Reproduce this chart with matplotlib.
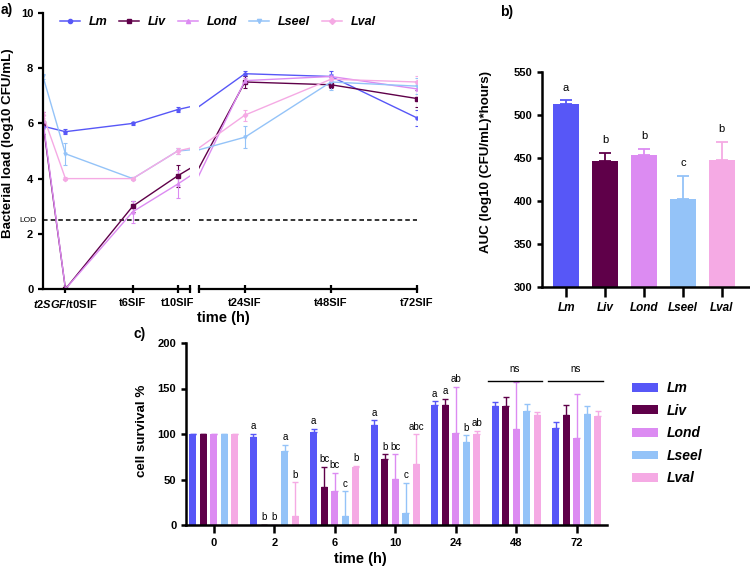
import numpy as np
import matplotlib
matplotlib.use("Agg")
import matplotlib.pyplot as plt
from matplotlib.patches import Patch
from matplotlib.lines import Line2D

plt.rcParams['font.family'] = ['Liberation Sans', 'DejaVu Sans']
plt.rcParams['font.weight'] = 'bold'
plt.rcParams['mathtext.fontset'] = 'custom'
plt.rcParams['mathtext.it'] = 'Liberation Sans:bold:italic'
plt.rcParams['mathtext.rm'] = 'Liberation Sans:bold'

# strains and colours
strains = ['Lm', 'Liv', 'Lond', 'Lseel', 'Lval']
colors = ['#5757F7', '#5F0049', '#DC8BF2', '#94C3F8', '#F5AAE4']
markers = ['o', 's', '^', 'v', 'D']

# panel a: bacterial load over digestion (time in h, cumulative)
time_h = [0, 2, 8, 12, 26, 50, 74]
time_labels = [r'$\mathit{t2SGF}$/t0SIF', 't6SIF', 't10SIF', 't24SIF', 't48SIF', 't72SIF']
load_Lm = [5.9, 5.7, 6.0, 6.5, 7.8, 7.7, 6.2]
load_Liv = [6.0, 0.0, 3.0, 4.1, 7.5, 7.4, 6.9]
load_Lond = [6.1, 0.0, 2.8, 3.8, 7.55, 7.7, 7.25]
load_Lseel = [7.7, 4.9, 4.0, 5.0, 5.5, 7.5, 7.35]
load_Lval = [6.3, 4.0, 4.0, 5.0, 6.3, 7.6, 7.5]
err_Lm = [0.05, 0.1, 0.05, 0.1, 0.1, 0.2, 0.3]
err_Liv = [0.4, 0.0, 0.2, 0.4, 0.2, 0.1, 0.3]
err_Lond = [0.3, 0.0, 0.4, 0.5, 0.1, 0.1, 0.3]
err_Lseel = [0.1, 0.4, 0.05, 0.1, 0.4, 0.3, 0.3]
err_Lval = [0.1, 0.05, 0.05, 0.1, 0.2, 0.1, 0.2]
lod = 2.5

# panel b: AUC
auc = [513, 447, 454, 402, 448]
auc_err = [4, 9, 7, 27, 21]
auc_letters = ['a', 'b', 'b', 'c', 'b']

# panel c: cell survival %
surv_times = ['0', '2', '6', '10', '24', '48', '72']
surv_Lm = [100, 97, 102, 110, 132, 131, 106.5]
surv_Liv = [100, 0, 42, 72, 132, 130.5, 120.5]
surv_Lond = [100, 0, 37.5, 50.5, 101.5, 105, 96]
surv_Lseel = [100, 81, 10, 13.5, 91.5, 125, 121.5]
surv_Lval = [100, 10, 64, 66.5, 100.5, 121, 120]
serr_Lm = [0, 3, 3.5, 5, 4, 4, 7]
serr_Liv = [0, 0, 22, 5.5, 7, 10, 11]
serr_Lond = [0, 0, 20, 27, 50, 52, 48]
serr_Lseel = [0, 7, 27, 33, 7, 8.5, 9]
serr_Lval = [0, 37, 1, 33, 3, 3, 5]
surv_letters = [
    ['', '', '', '', ''],
    ['a', 'b', 'b', 'a', 'b'],
    ['a', 'bc', 'bc', 'c', 'b'],
    ['a', 'b', 'bc', 'c', 'abc'],
    ['a', 'a', 'ab', 'b', 'ab'],
    ['', '', '', '', ''],
    ['', '', '', '', ''],
]

loads = [load_Lm, load_Liv, load_Lond, load_Lseel, load_Lval]
load_errs = [err_Lm, err_Liv, err_Lond, err_Lseel, err_Lval]
survs = [surv_Lm, surv_Liv, surv_Lond, surv_Lseel, surv_Lval]
surv_errs = [serr_Lm, serr_Liv, serr_Lond, serr_Lseel, serr_Lval]

fig = plt.figure(figsize=(7.5, 5.67), dpi=100)
W, H = 750, 567


def px_axes(x0, y0, x1, y1):
    return fig.add_axes([x0 / W, 1 - y1 / H, (x1 - x0) / W, (y1 - y0) / H])


def style(ax, lw=1.6):
    for s in ['top', 'right']:
        ax.spines[s].set_visible(False)
    for s in ['left', 'bottom']:
        ax.spines[s].set_linewidth(lw)
    ax.tick_params(width=lw, labelsize=8)


# ---- panel a (broken x axis) ----
axL = px_axes(43, 13, 190, 289)
axR = px_axes(199, 13, 417, 289)
for ax, lim in [(axL, (0, 13.1)), (axR, (13.2, 74))]:
    style(ax)
    for i in range(5):
        ax.errorbar(time_h, loads[i], yerr=load_errs[i], color=colors[i],
                    lw=1.0, marker=markers[i], ms=2.2, capsize=1.5,
                    elinewidth=0.8, capthick=0.8, clip_on=True)
    ax.axhline(lod, color='black', ls='--', lw=1.1, dashes=(3, 2))
    ax.set_xlim(*lim)
    ax.set_ylim(0, 10)
    ax.tick_params(axis='x', direction='inout', length=6)
    ax.set_xticks([lim[1]] if ax is axL else [lim[0]], minor=True)
    ax.tick_params(axis='x', which='minor', direction='inout', length=6, width=1.6)

axL.set_xticks(time_h[1:4])
axL.set_xticklabels(time_labels[:3])
axR.set_xticks(time_h[4:])
axR.set_xticklabels(time_labels[3:])
axL.set_yticks([0, 2, 4, 6, 8, 10])
axL.set_ylabel('Bacterial load (log10 CFU/mL)', fontsize=9.6, fontweight='bold')
axL.yaxis.set_label_coords(-0.2, 0.53)
axR.spines['left'].set_visible(False)
axR.set_yticks([])
axL.text(-0.6, lod, 'LOD', fontsize=6, ha='right', va='center', fontweight='normal')
fig.text(223 / W, 1 - 318 / H, 'time (h)', fontsize=10.5, fontweight='bold',
         ha='center', va='center')
fig.text(1 / W, 1 - 10 / H, 'a)', fontsize=10, fontweight='bold', va='center')

handles = [Line2D([], [], color=colors[i], marker=markers[i], ms=3, lw=1.1)
           for i in range(5)]
fig.legend(handles, strains, loc='center', bbox_to_anchor=(218 / W, 1 - 22 / H),
           ncol=5, frameon=False, prop={'style': 'italic', 'weight': 'bold', 'size': 9},
           handlelength=1.6, columnspacing=0.95, handletextpad=0.7)

# ---- panel b ----
axb = px_axes(542, 72, 749, 287)
style(axb, lw=1.8)
xb = np.arange(len(strains))
axb.bar(xb, [v - 300 for v in auc], bottom=300, width=0.66, color=colors)
for i in range(5):
    axb.errorbar(xb[i], auc[i], yerr=[[0], [auc_err[i]]], fmt='none',
                 ecolor=colors[i], capsize=4.5, elinewidth=1.3, capthick=1.3)
    axb.text(xb[i], auc[i] + auc_err[i] + 9, auc_letters[i], ha='center',
             va='bottom', fontsize=8, fontweight='normal')
axb.set_xlim(-0.62, 4.7)
axb.set_ylim(300, 550)
axb.set_yticks([300, 350, 400, 450, 500, 550])
axb.set_xticks(xb)
axb.set_xticklabels(strains, style='italic', fontsize=8.5)
axb.tick_params(axis='x', length=7)
axb.set_ylabel('AUC (log10 (CFU/mL)*hours)', fontsize=9.6, fontweight='bold')
axb.yaxis.set_label_coords(-0.24, 0.58)
fig.text(500 / W, 1 - 12 / H, 'b)', fontsize=10, fontweight='bold', va='center')

# ---- panel c ----
axc = px_axes(186, 343, 607, 525)
style(axc, lw=1.8)
xc = np.arange(len(surv_times))
step, bw = 0.174, 0.118
for i in range(5):
    pos = xc + (i - 2) * step
    axc.bar(pos, survs[i], width=bw, color=colors[i])
    axc.errorbar(pos, survs[i], yerr=[np.zeros(7), surv_errs[i]], fmt='none',
                 ecolor=colors[i], capsize=2, elinewidth=1.0, capthick=1.0)
    for j in range(len(surv_times)):
        lab = surv_letters[j][i]
        if lab:
            axc.text(pos[j], survs[i][j] + surv_errs[i][j] + 3, lab, ha='center',
                     va='bottom', fontsize=7, fontweight='normal')
for j in [5, 6]:
    axc.plot([xc[j] - 0.47, xc[j] + 0.43], [158, 158], color='black', lw=1.0)
    axc.text(xc[j] - 0.02, 166, 'ns', ha='center', va='bottom', fontsize=7,
             fontweight='normal')
axc.set_xlim(-0.46, 6.5)
axc.set_ylim(0, 200)
axc.set_yticks([0, 50, 100, 150, 200])
axc.set_xticks(xc)
axc.set_xticklabels(surv_times)
axc.tick_params(axis='x', length=6)
axc.set_ylabel('cell survival %', fontsize=9.6, fontweight='bold')
axc.yaxis.set_label_coords(-0.09, 0.52)
fig.text(360 / W, 1 - 559 / H, 'time (h)', fontsize=10.5, fontweight='bold',
         ha='center', va='center')
fig.text(133 / W, 1 - 334 / H, 'c)', fontsize=10, fontweight='bold', va='center')

phandles = [Patch(facecolor=c) for c in colors]
fig.legend(phandles, strains, loc='upper left', bbox_to_anchor=(632 / W, 1 - 381 / H),
           frameon=False, prop={'style': 'italic', 'weight': 'bold', 'size': 10},
           borderpad=0, borderaxespad=0,
           handlelength=1.9, handleheight=0.6, labelspacing=0.62, handletextpad=0.6)

fig.savefig('out.png', dpi=100)
